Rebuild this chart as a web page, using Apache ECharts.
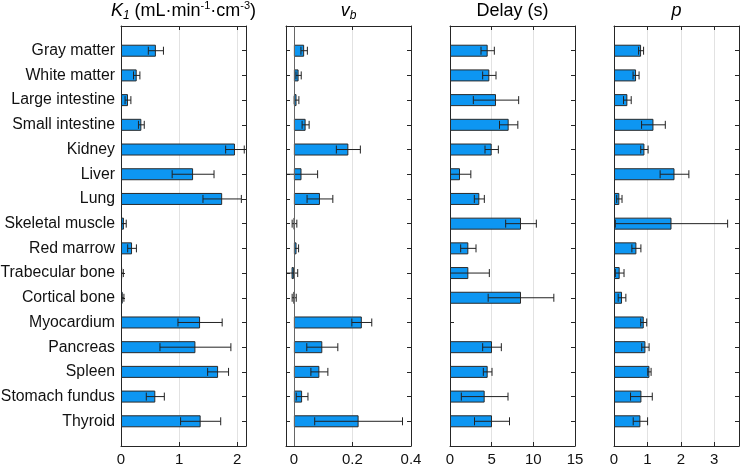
<!DOCTYPE html>
<html><head><meta charset="utf-8">
<script src="https://cdn.jsdelivr.net/npm/echarts@6/dist/echarts.min.js"></script>
<style>html,body{margin:0;padding:0;background:#fff}#c{width:740px;height:466px}</style>
</head><body><div id="c"></div>
<script>
const categories = ['Gray matter','White matter','Large intestine','Small intestine','Kidney','Liver','Lung','Skeletal muscle','Red marrow','Trabecular bone','Cortical bone','Myocardium','Pancreas','Spleen','Stomach fundus','Thyroid'];

const k1 =    [0.60, 0.27, 0.12, 0.35, 1.96, 1.24, 1.74, 0.05, 0.19, 0.02, 0.03, 1.36, 1.28, 1.67, 0.59, 1.37];
const k1Err = [0.13, 0.055,0.05, 0.05, 0.16, 0.36, 0.33, 0.04, 0.075,0.02, 0.02, 0.38, 0.61, 0.18, 0.155,0.345];

const vb =    [0.035,0.016,0.009,0.040,0.186,0.026,0.089,0.002,0.009,-0.008,0.001,0.232,0.097,0.087,0.028,0.221];
const vbErr = [0.011,0.009,0.008,0.012,0.041,0.055,0.044,0.008,0.007,0.021,0.007,0.034,0.053,0.029,0.020,0.150];

const delay =    [4.52,4.72,5.52,7.04,5.00,1.20,3.52,8.52,2.20,2.20,8.52,null,5.04,4.52,4.16,5.04];
const delayErr = [0.80,0.80,2.72,1.10,0.80,1.30,0.60,1.84,0.92,2.52,3.94,null,1.12,0.52,2.80,2.10];

const p =    [0.81,0.66,0.40,1.18,0.91,1.81,0.16,1.72,0.67,0.17,0.24,0.89,0.94,1.06,0.82,0.79];
const pErr = [0.075,0.09,0.115,0.355,0.11,0.43,0.08,1.68,0.135,0.13,0.115,0.09,0.11,0.05,0.325,0.215];

const ticksK1 = [0, 1, 2];
const ticksVb = [0, 0.2, 0.4];
const ticksDelay = [0, 5, 10, 15];
const ticksP = [0, 1, 2, 3];

const titles = [
  '{i|K}{sub|1}{n| (mL·min}{sup|-1}{n|·cm}{sup|-3}{n|)}',
  '{i|v}{sub|b}',
  '{n|Delay (s)}',
  '{i|p}'
];

const FONT = '"Liberation Sans", Arial, Helvetica, sans-serif';
const AXC = '#262626';

const panels = [
  {vals: k1, errs: k1Err, ticks: ticksK1, min: 0, max: 2.15, left: 121},
  {vals: vb, errs: vbErr, ticks: ticksVb, min: -0.027, max: 0.4, left: 286, zero: true},
  {vals: delay, errs: delayErr, ticks: ticksDelay, min: 0, max: 15, left: 450},
  {vals: p, errs: pErr, ticks: ticksP, min: 0, max: 3.74, left: 614}
];
const W = 125, TOP = 26, H = 420;
const ycats = [''].concat(categories, ['']);

const grid = [], xAxis = [], yAxis = [], series = [], graphic = [];
const lineStyle = {color: AXC, width: 1};

function errRender(params, api) {
  const yi = api.value(0), v = api.value(1), e = api.value(2);
  const lo = api.coord([v - e, yi]);
  const hi = api.coord([v + e, yi]);
  const h = 4;
  const st = {stroke: '#222', lineWidth: 1, fill: null};
  return {type: 'group', children: [
    {type: 'line', shape: {x1: lo[0], y1: lo[1], x2: hi[0], y2: hi[1]}, style: st},
    {type: 'line', shape: {x1: lo[0], y1: lo[1] - h, x2: lo[0], y2: lo[1] + h}, style: st},
    {type: 'line', shape: {x1: hi[0], y1: hi[1] - h, x2: hi[0], y2: hi[1] + h}, style: st}
  ]};
}

const richStyles = {
  i: {fontSize: 18, fontStyle: 'italic', fontFamily: FONT, lineHeight: 22, fill: '#000', color: '#000'},
  n: {fontSize: 18, fontFamily: FONT, lineHeight: 22, fill: '#000', color: '#000'},
  sub: {fontSize: 12, fontStyle: 'italic', fontFamily: FONT, lineHeight: 12, verticalAlign: 'bottom', fill: '#000', color: '#000'},
  sup: {fontSize: 11, fontFamily: FONT, lineHeight: 12, verticalAlign: 'top', fill: '#000', color: '#000'}
};

panels.forEach((pn, i) => {
  grid.push({left: pn.left, top: TOP, width: W, height: H, outerBoundsMode: 'none', containLabel: false});
  const baseX = {
    gridIndex: i, type: 'value', min: pn.min, max: pn.max,
    axisLine: {show: true, onZero: false, lineStyle},
    axisTick: {show: true, inside: true, length: 4, customValues: pn.ticks, lineStyle}
  };
  xAxis.push(Object.assign({}, baseX, {
    position: 'bottom',
    axisLabel: {show: true, customValues: pn.ticks, margin: 6, fontSize: 15, color: '#111', fontFamily: FONT, showMaxLabel: true},
    splitLine: {show: true, lineStyle: {color: '#e2e2e2', width: 1}}
  }));
  xAxis.push(Object.assign({}, baseX, {
    position: 'top',
    axisLabel: {show: false},
    splitLine: {show: false}
  }));
  const baseY = {
    gridIndex: i, type: 'category', data: ycats, inverse: true, boundaryGap: false,
    axisLine: {show: true, onZero: false, lineStyle},
    axisTick: {show: true, inside: true, length: 4, interval: 0, lineStyle},
    splitLine: {show: false}
  };
  yAxis.push(Object.assign({}, baseY, {
    position: 'left',
    axisLabel: {show: i === 0, interval: 0, margin: 6, fontSize: 15.8, color: '#111', fontFamily: FONT}
  }));
  yAxis.push(Object.assign({}, baseY, {
    position: 'right',
    axisLabel: {show: false}
  }));

  const bar = {
    type: 'bar', xAxisIndex: 2 * i, yAxisIndex: 2 * i,
    data: [null].concat(pn.vals, [null]),
    barWidth: 12,
    itemStyle: {color: '#0d96f2', borderColor: '#2a2a2a', borderWidth: 1},
    z: 2
  };
  if (pn.zero) {
    bar.markLine = {
      silent: true, symbol: ['none', 'none'], label: {show: false},
      lineStyle: {color: '#666', width: 1, type: 'solid'},
      data: [{xAxis: 0}], animation: false
    };
  }
  series.push(bar);

  const errData = [];
  pn.vals.forEach((v, k) => { if (v !== null && pn.errs[k] !== null) errData.push([k + 1, v, pn.errs[k]]); });
  series.push({
    type: 'custom', xAxisIndex: 2 * i, yAxisIndex: 2 * i, clip: true,
    encode: {x: 1, y: 0}, renderItem: errRender, data: errData, z: 3
  });

  graphic.push({
    type: 'text', x: pn.left + W / 2, y: 11,
    style: {text: titles[i], rich: richStyles, align: 'center', verticalAlign: 'middle', fill: '#000', font: '18px ' + FONT}
  });
});

const chart = echarts.init(document.getElementById('c'), null, {renderer: 'canvas'});
chart.setOption({animation: false, grid, xAxis, yAxis, series, graphic});
</script>
</body></html>
